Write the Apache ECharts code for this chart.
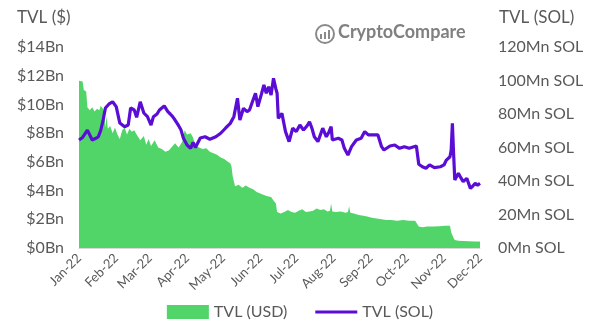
<!DOCTYPE html>
<html>
<head>
<meta charset="utf-8">
<script src="https://cdn.jsdelivr.net/npm/echarts@6/dist/echarts.min.js"></script>
<style>html,body{margin:0;padding:0;background:#fff}#c{width:600px;height:334px}</style>
</head>
<body>
<div id="c"></div>
<script>
// Day offsets from 2022-01-01 and values
const usdDays = [0,3,4,6,7,9,11,13,15,17,18,20,21,22,23,24,26,28,30,32,34,36,38,40,42,44,46,48,51,54,56,58,60,63,66,69,72,75,78,80,83,86,88,90,93,95,97,100,103,106,109,112,115,118,121,124,126,127,128,130,133,136,139,142,145,148,151,154,157,160,162,164,165,168,171,174,177,180,183,186,189,192,195,198,201,204,207,209,210,211,214,218,222,224,225,226,229,233,237,240,244,248,252,256,260,265,270,275,280,283,286,290,295,300,305,309,310,312,313,316,320,325,330,334];
const usdValues = [11.65,11.6,11.0,10.9,9.8,9.6,9.8,9.5,9.7,9.6,9.9,9.7,9.5,8.4,9.2,8.3,8.5,8.0,8.4,7.9,7.6,8.2,8.4,7.9,8.3,8.1,8.2,7.9,7.5,7.8,7.2,7.6,7.1,7.5,7.0,6.9,6.7,6.8,7.1,7.3,7.0,7.4,8.2,7.9,8.0,7.7,7.1,7.0,6.9,6.95,6.7,6.6,6.5,6.3,6.2,6.0,5.9,5.7,5.0,4.3,4.4,4.2,4.35,4.2,4.1,3.9,3.8,3.7,3.6,3.55,3.3,3.1,2.5,2.4,2.5,2.65,2.5,2.45,2.6,2.7,2.5,2.55,2.6,2.75,2.65,2.7,2.55,2.6,3.1,2.55,2.5,2.55,2.45,2.5,2.9,2.45,2.4,2.3,2.25,2.2,2.1,2.05,2.0,1.95,1.95,1.9,1.95,1.9,1.9,1.5,1.45,1.5,1.5,1.52,1.55,1.55,1.1,0.7,0.55,0.5,0.48,0.47,0.46,0.46];

const solDays = [0,3,7,11,14,16,18,20,22,25,28,31,34,38,41,43,46,48,51,54,57,60,62,65,67,71,74,76,78,80,83,85,87,90,93,95,97,101,105,109,114,118,122,126,129,132,134,137,140,142,144,147,149,152,154,156,158,160,162,164,165,166,169,172,175,178,181,184,187,190,192,194,196,199,203,206,208,210,211,216,219,221,224,227,231,235,238,241,245,249,252,254,259,263,267,271,275,281,283,286,289,292,296,301,304,306,309,310,311,312,313,316,318,320,323,326,328,330,332,334];
const solValues = [64.5,66,70.4,64.5,65.5,66.3,70,76,83.6,86,87.3,84.4,74.6,72.4,73.4,83.6,82.4,78,87.3,80.6,78.4,73.4,78.4,80,82.4,84.8,81.4,80,78.4,76.4,73,70.4,65.5,61.5,59.5,63,60,65.7,66.4,64.9,66.4,68.5,71.5,74.4,78.4,89.4,76.4,83.4,81.4,82.4,86.4,92.4,84.4,92,97.3,92.4,96.3,91.3,101.3,95,92.4,77.4,80.4,69.5,63.5,71.5,69.5,73.4,70.4,73,75.4,71.5,66.4,63.5,71.5,66.4,69,72.4,64.5,65.5,64.5,59.5,55.5,60.5,64.5,65.5,69.5,67.5,67.5,67.5,60.5,58.5,60.9,61.5,59.5,60.5,59.5,60.9,50,48.5,47.6,49.6,48,48.5,49.6,52.5,54.5,58.5,74.4,56.5,40.6,44.6,42,39.6,41.6,35.6,37,38.6,37.5,38.6];

const monthNames = ['Jan','Feb','Mar','Apr','May','Jun','Jul','Aug','Sep','Oct','Nov','Dec'];
const yearSuffix = '22';

const DAY = 86400000;
const start = Date.UTC(2022,0,1);
const monthStartDays = monthNames.map((m,i)=>Math.round((Date.UTC(2022,i,1)-start)/DAY));
const usdData = usdDays.map((d,i)=>[d, usdValues[i]]);
const solData = solDays.map((d,i)=>[d, solValues[i]]);

const FONT = 'Lato';
const GRAY = '#595959';
const GREEN = '#52D568';
const PURPLE = '#5B0DD6';
const chart = echarts.init(document.getElementById('c'), null, {renderer:'canvas'});
chart.setOption({
  animation:false,
  textStyle:{fontFamily:FONT},
  grid:{left:79, right:120, top:47, bottom:86, containLabel:false},
  xAxis:{
    type:'value', min:0, max:334,
    axisLine:{show:true, lineStyle:{color:'#d9d9d9', width:1}},
    axisTick:{show:false},
    splitLine:{show:false},
    axisLabel:{
      customValues: monthStartDays,
      rotate:45, margin:8, fontSize:13, color:GRAY, fontFamily:FONT,
      formatter:function(v){const i=monthStartDays.indexOf(Math.round(v));return i>=0?monthNames[i]+'-'+yearSuffix:'';}
    }
  },
  yAxis:[{
    type:'value', min:0, max:14, interval:2, position:'left',
    axisLine:{show:false}, axisTick:{show:false}, splitLine:{show:false},
    axisLabel:{margin:15, fontSize:16, color:GRAY, fontFamily:FONT, formatter:v=>'$'+v+'Bn'}
  },{
    type:'value', min:0, max:120, interval:20, position:'right',
    axisLine:{show:false}, axisTick:{show:false}, splitLine:{show:false},
    axisLabel:{margin:18, fontSize:16, color:GRAY, fontFamily:FONT, formatter:v=>v+'Mn SOL'}
  }],
  legend:{
    bottom:9, left:'center', itemGap:28, itemWidth:42, itemHeight:14,
    textStyle:{fontSize:16, color:GRAY, fontFamily:FONT},
    data:[
      {name:'TVL (USD)', icon:'rect', itemStyle:{color:GREEN}},
      {name:'TVL (SOL)', icon:'path://M0,0 L42,0 L42,3 L0,3 Z', itemStyle:{color:PURPLE}}
    ]
  },
  series:[{
    name:'TVL (USD)', type:'line', yAxisIndex:0, data:usdData,
    symbol:'none', lineStyle:{width:0}, itemStyle:{color:GREEN},
    areaStyle:{color:GREEN, opacity:1}, z:1
  },{
    name:'TVL (SOL)', type:'line', yAxisIndex:1, data:solData,
    symbol:'none', lineStyle:{width:3.2, color:PURPLE}, itemStyle:{color:PURPLE}, z:2
  }],
  graphic:[
    {type:'text', left:17, top:9, style:{text:'TVL ($)', fontSize:17, fill:GRAY, fontFamily:FONT}},
    {type:'text', left:499, top:9, style:{text:'TVL (SOL)', fontSize:17, fill:GRAY, fontFamily:FONT}},
    {type:'circle', shape:{cx:325, cy:34, r:9}, style:{fill:'none', stroke:'#8a8a8a', lineWidth:2}},
    {type:'rect', shape:{x:320, y:34, width:2, height:5}, style:{fill:'#8a8a8a'}},
    {type:'rect', shape:{x:324, y:32, width:2, height:7}, style:{fill:'#8a8a8a'}},
    {type:'rect', shape:{x:328, y:30, width:2, height:9}, style:{fill:'#8a8a8a'}},
    {type:'text', left:338, top:23, style:{text:'CryptoCompare', fontSize:18, fontWeight:'bold', fill:'#808080', fontFamily:FONT}}
  ]
});
</script>
</body>
</html>
